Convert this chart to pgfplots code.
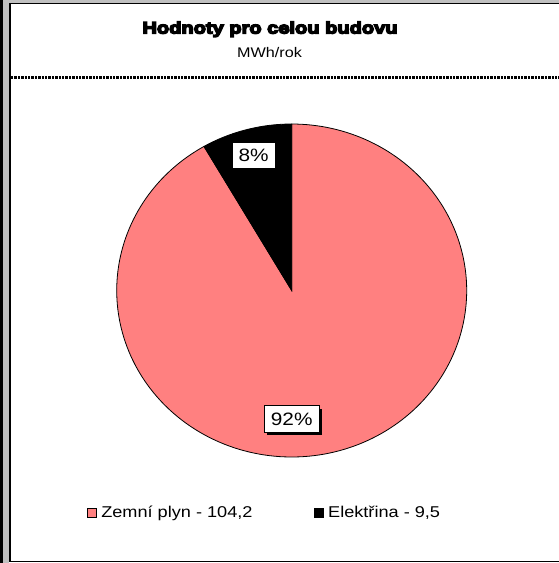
\documentclass[border=0pt]{standalone}
\usepackage{fontspec}
\setmainfont{Liberation Sans}[FakeStretch=1.16]
\newfontfamily\titlefont{Liberation Sans}[FakeStretch=1.22]
\usepackage{pgfplots}
\pgfplotsset{compat=1.18}
\usepackage{pgfplotstable}
\usetikzlibrary{shadows}
\definecolor{pieRed}{HTML}{FF8080}
\definecolor{winGray}{HTML}{C0C0C0}
\tikzset{lbl/.style={fill=white, draw=black, line width=0.8bp, inner xsep=6.5bp, inner ysep=7bp, font=\fontsize{18}{20}\selectfont}}
\newcommand\heavy[1]{\special{pdf:literal direct 2 Tr 1.45 w}#1\special{pdf:literal direct 0 Tr 0.3985 w}}

\pgfplotstableread{
name value
gas 104.2
el 9.5
}\datatable

\begin{document}
\begin{tikzpicture}[x=1bp,y=-1bp]
\pgfplotstablegetelem{0}{value}\of\datatable \let\vA\pgfplotsretval
\pgfplotstablegetelem{1}{value}\of\datatable \let\vB\pgfplotsretval
\pgfmathsetmacro\total{\vA+\vB}
\pgfmathsetmacro\split{90+360*\vB/\total}
\pgfmathsetmacro\midB{(90+\split)/2}
\pgfmathtruncatemacro\pA{round(100*\vA/\total)}
\pgfmathtruncatemacro\pB{round(100*\vB/\total)}

% window background and chart frame
\fill[white] (0,0) rectangle (559,563);
\fill[black] (0,0) rectangle (3.3,563);
\fill[winGray] (3.3,0) rectangle (9.2,563);
\fill[winGray] (3.3,0) rectangle (559,2.8);
\draw[line width=1.8bp] (10.1,3.4) -- (10.1,561.4);
\draw[line width=1.4bp] (9.2,3.5) -- (559,3.5);
\draw[line width=1.4bp] (9.2,561.4) -- (559,561.4);

% titles
\node[anchor=base, inner sep=0pt, font=\titlefont\bfseries\fontsize{16.5}{18}\selectfont] at (270,33.5) {\heavy{Hodnoty pro celou budovu}};
\node[anchor=base, inner sep=0pt, font=\fontsize{14}{16}\selectfont] at (269.5,57.7) {MWh/rok};
\draw[line width=2.6bp, dash pattern=on 2.4bp off 1bp] (11,77.3) -- (559,77.3);

\begin{axis}[
  at={(291.7bp,-290.5bp)}, anchor=origin,
  x=175bp, y=166.5bp,
  xmin=-1, xmax=1, ymin=-1, ymax=1,
  hide axis, clip=false,
  legend columns=2,
  legend image code/.code={\draw[#1, line width=0.6bp] (0bp,-4.5bp) rectangle (9bp,4.5bp);},
  legend style={at={(axis description cs:-0.0849,-0.1667)}, anchor=west,
    draw=none, fill=none, inner sep=0pt,
    font=\fontsize{15.7}{17}\selectfont,
    nodes={inner sep=4.5bp},
    /tikz/every even column/.append style={column sep=57bp}},
]
\addplot[fill=pieRed, draw=black, line width=0.8bp, domain=\split:450, samples=200, variable=\t]
  ({cos(\t)},{sin(\t)}) -- (axis cs:0,0) -- cycle;
\addlegendentry{Zemní plyn - 104,2}
\addplot[fill=black, draw=black, line width=0.8bp, domain=90:\split, samples=30, variable=\t]
  ({cos(\t)},{sin(\t)}) -- (axis cs:0,0) -- cycle;
\addlegendentry{Elektřina - 9,5}
\node[lbl] at (axis cs:{0.84*cos(\midB)},{0.84*sin(\midB)}) {\pB\%};
\node[lbl, drop shadow={shadow xshift=3bp, shadow yshift=-3bp, fill=black, opacity=1}] at (axis cs:0,-0.772) {\pA\%};
\end{axis}
\pgfresetboundingbox
\path[use as bounding box] (0,0) rectangle (559,563);
\end{tikzpicture}
\end{document}
